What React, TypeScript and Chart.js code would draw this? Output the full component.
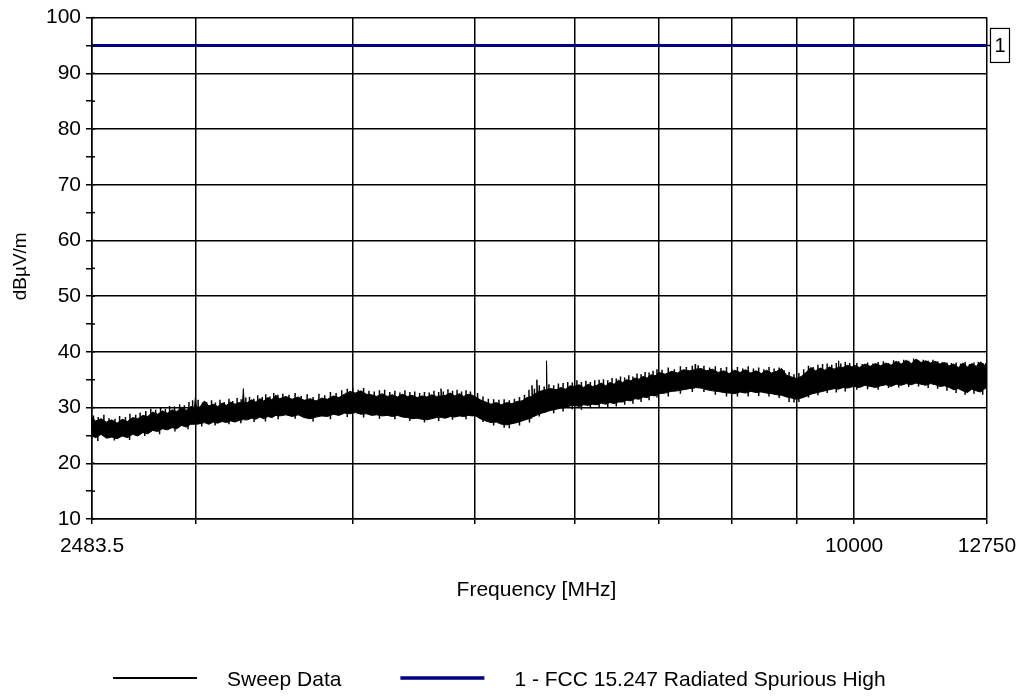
import { useEffect, useRef } from "react";
import { Chart, registerables } from "chart.js";

Chart.register(...registerables);

const FONT = "'Liberation Sans', Arial, Helvetica, sans-serif";

// Sweep points (MHz) with the upper and lower edge of the trace at each point (dBµV/m)
const FREQ_MHZ = [
  2483.5, 2500, 2525, 2550, 2575, 2600, 2625, 2650, 2675, 2700, 2725, 2750, 2775, 2800, 2825, 2850, 2875, 2900, 2925, 2950, 2975,
  2995, 3000, 3005, 3025, 3050, 3075, 3100, 3125, 3150, 3175, 3200, 3225, 3250, 3270, 3275, 3280, 3300, 3325, 3350, 3375, 3400, 3425, 3450, 3475,
  3500, 3540, 3580, 3620, 3660, 3700, 3740, 3780, 3820, 3860, 3900, 3940, 3980, 4020, 4060, 4100, 4140, 4180, 4220, 4260,
  4300, 4340, 4380, 4420, 4460, 4500, 4540, 4580, 4620, 4660, 4695, 4700, 4705, 4740, 4780, 4820, 4860, 4900, 4940, 4980,
  5000, 5050, 5100, 5150, 5200, 5250, 5300, 5350, 5400, 5450, 5500, 5545, 5550, 5555, 5595, 5600, 5605, 5650, 5695, 5700, 5705, 5750,
  5800, 5850, 5900, 5950, 6000, 6050, 6100, 6150, 6200, 6250, 6300, 6350, 6400, 6450, 6500, 6550, 6600, 6650, 6700, 6750, 6800, 6850, 6900, 6950,
  7000, 7080, 7160, 7240, 7320, 7400, 7475, 7480, 7485, 7560, 7640, 7720, 7800, 7880, 7960, 8040, 8120, 8200, 8280, 8360, 8440,
  8520, 8600, 8680, 8760, 8840, 8920, 9000, 9080, 9160, 9240, 9320, 9400, 9480, 9560, 9640, 9715, 9720, 9725, 9800, 9880, 9960,
  10000, 10100, 10200, 10300, 10400, 10500, 10600, 10700, 10800, 10900, 11000, 11100, 11200, 11300, 11400,
  11500, 11600, 11700, 11800, 11900, 12000, 12100, 12200, 12300, 12400, 12500, 12600, 12700, 12750,
];

const PEAK_DBUV = [
  28.2, 27.6, 28.0, 27.4, 27.8, 27.2, 27.9, 27.5, 28.2, 28.0, 28.6, 28.4, 29.2, 28.8, 29.4, 29.0, 29.6, 29.3, 30.0, 29.5, 30.2,
  30.0, 31.8, 30.1, 30.1, 31.2, 30.3, 30.6, 30.2, 30.8, 30.4, 31.0, 30.6, 30.9, 30.8, 33.4, 30.9, 30.9, 31.4, 31.0, 31.6, 31.2, 31.8, 31.4, 32.2,
  31.6, 32.0, 31.5, 31.9, 31.3, 31.6, 31.2, 31.7, 31.5, 32.1, 31.8, 32.4, 32.9, 32.6, 33.0, 32.4, 32.3, 32.0, 32.5, 32.0,
  32.3, 31.9, 32.4, 32.0, 32.2, 31.8, 32.1, 31.9, 32.3, 32.0, 32.1, 33.4, 32.1, 32.2, 32.6, 32.1, 32.5, 32.0, 32.4, 32.2,
  32.0, 31.4, 31.0, 30.6, 30.9, 30.5, 30.9, 30.7, 31.1, 31.2, 31.8, 32.0, 34.0, 32.2, 32.6, 35.0, 32.8, 33.0, 33.2, 38.4, 33.3, 33.4,
  33.2, 33.6, 33.3, 33.9, 33.8, 34.1, 33.6, 34.2, 33.8, 34.0, 34.4, 33.9, 34.5, 34.2, 34.9, 34.5, 35.0, 34.8, 35.3, 35.1, 35.6, 35.3, 35.9, 35.7,
  36.3, 36.0, 36.5, 36.2, 36.8, 36.6, 36.8, 37.8, 36.9, 37.0, 36.6, 36.9, 36.3, 36.6, 36.1, 36.7, 36.3, 36.8, 36.2, 36.6, 36.1,
  36.7, 36.2, 36.5, 37.0, 35.8, 35.5, 35.2, 35.6, 36.3, 37.2, 36.6, 37.1, 36.7, 37.3, 36.9, 37.2, 38.4, 37.3, 37.2, 37.6, 37.3,
  37.6, 37.2, 37.8, 37.4, 37.9, 37.5, 38.0, 37.6, 38.3, 37.8, 38.5, 37.9, 38.7, 38.1, 38.4,
  38.0, 38.3, 37.8, 38.1, 37.5, 37.8, 37.2, 38.0, 37.3, 37.9, 37.4, 38.2, 37.6, 37.9,
];

const FLOOR_DBUV = [
  24.9, 24.6, 25.2, 24.5, 24.7, 24.4, 24.9, 24.6, 25.2, 24.9, 25.5, 25.3, 25.9, 25.7, 26.2, 26.0, 26.4, 26.2, 26.8, 26.5, 27.0,
  27.0, 26.9, 27.0, 27.1, 27.3, 27.0, 27.4, 27.2, 27.5, 27.3, 27.6, 27.4, 27.7, 27.8, 27.9, 27.8, 27.8, 28.1, 27.9, 28.3, 28.0, 28.4, 28.2, 28.6,
  28.5, 28.7, 28.4, 28.7, 28.2, 28.0, 28.3, 28.5, 28.4, 28.8, 28.6, 29.0, 28.9, 29.1, 28.8, 28.9, 28.6, 28.7, 28.5, 28.6,
  28.4, 28.6, 28.3, 28.2, 28.0, 28.1, 27.9, 27.8, 28.0, 28.2, 28.2, 28.3, 28.2, 28.1, 28.4, 28.3, 28.5, 28.4, 28.6, 28.5,
  28.6, 28.0, 27.6, 27.3, 27.4, 27.0, 26.9, 27.1, 27.3, 27.6, 27.9, 28.1, 28.3, 28.3, 28.6, 28.7, 28.7, 29.0, 29.2, 29.3, 29.3, 29.5,
  29.7, 29.9, 30.0, 30.3, 30.4, 30.2, 30.5, 30.4, 30.6, 30.5, 30.8, 30.6, 30.9, 30.7, 31.0, 31.0, 31.3, 31.2, 31.6, 31.5, 31.9, 31.8, 32.2, 32.1,
  32.5, 32.6, 32.9, 33.0, 33.2, 33.4, 33.5, 33.6, 33.6, 33.5, 33.2, 33.0, 32.9, 32.7, 32.6, 32.5, 32.8, 32.6, 32.9, 32.7, 32.8,
  32.6, 32.5, 32.3, 32.2, 31.9, 31.7, 31.5, 31.7, 32.0, 32.4, 32.6, 32.8, 33.0, 33.2, 33.4, 33.3, 33.3, 33.3, 33.6, 33.5, 33.7,
  33.8, 33.6, 34.0, 33.8, 33.6, 33.9, 34.1, 33.8, 34.2, 34.0, 34.3, 34.1, 34.4, 34.2, 34.0,
  34.3, 34.1, 33.8, 33.9, 33.6, 33.2, 33.4, 33.0, 32.7, 33.3, 33.0, 32.8, 33.4, 33.6,
];

// Narrow excursions above the trace: frequency (MHz) and top level (dBµV/m)
const SPIKE_UP_MHZ = [
  2490, 2512, 2538, 2562, 2590, 2612, 2640, 2662, 2690, 2712, 2740, 2765, 2790, 2815, 2840, 2862, 2888, 2915, 2940, 2965, 2985,
  3015, 3040, 3062, 3090, 3112, 3138, 3162, 3190, 3212, 3238, 3262, 3290, 3312, 3338, 3362, 3390, 3412, 3438, 3462, 3488,
  3520, 3560, 3600, 3640, 3680, 3720, 3760, 3800, 3840, 3880, 3920, 3960, 4000, 4040, 4080, 4120, 4160, 4200, 4240, 4280,
  4320, 4360, 4400, 4440, 4480, 4520, 4560, 4600, 4640, 4680, 4720, 4760, 4800, 4840, 4880, 4920, 4960,
  5025, 5075, 5125, 5175, 5225, 5275, 5325, 5375, 5425, 5475, 5520, 5575, 5625, 5675, 5725, 5775, 5825, 5875, 5925, 5975,
  6025, 6075, 6125, 6175, 6225, 6275, 6325, 6375, 6425, 6475, 6525, 6575, 6625, 6675, 6725, 6775, 6825, 6875, 6925, 6975,
  7040, 7120, 7200, 7280, 7360, 7440, 7520, 7600, 7680, 7760, 7840, 7920, 8000, 8080, 8160, 8240, 8320, 8400, 8480, 8560,
  8640, 8720, 8800, 8880, 8960, 9040, 9120, 9200, 9280, 9360, 9440, 9520, 9600, 9680, 9760, 9840, 9920,
  10050, 10150, 10250, 10350, 10450, 10550, 10650, 10750, 10850, 10950, 11050, 11150, 11250, 11350, 11450,
  11550, 11650, 11750, 11850, 11950, 12050, 12150, 12250, 12350, 12450, 12550, 12650, 12725,
];
const SPIKE_UP_DBUV = [
  28.6, 28.3, 28.7, 28.1, 28.0, 28.5, 28.3, 28.9, 28.7, 29.1, 29.4, 29.8, 29.6, 30.0, 29.8, 30.3, 30.2, 30.6, 30.4, 31.0, 31.3,
  31.4, 30.9, 31.0, 31.3, 30.9, 31.4, 31.0, 31.6, 31.2, 31.7, 31.5, 31.8, 31.9, 31.6, 32.2, 31.9, 32.4, 32.0, 32.6, 32.3,
  32.5, 32.3, 32.6, 32.1, 32.4, 31.9, 32.5, 32.2, 32.8, 32.6, 33.1, 33.4, 33.6, 33.2, 33.5, 33.0, 32.9, 33.1, 33.2, 32.8,
  33.0, 32.7, 33.1, 32.8, 32.9, 32.6, 32.8, 32.7, 33.0, 32.8, 32.9, 33.3, 33.0, 33.2, 32.9, 33.1, 32.9,
  32.6, 32.0, 31.6, 31.5, 31.4, 31.5, 31.3, 31.6, 31.9, 32.3, 33.2, 33.4, 34.0, 33.8, 34.2, 34.0, 34.3, 34.4, 34.6, 34.5,
  34.9, 34.6, 34.8, 34.6, 34.9, 35.0, 35.1, 34.9, 35.3, 35.2, 35.6, 35.4, 35.8, 35.6, 36.1, 36.0, 36.4, 36.3, 36.6, 36.9,
  36.8, 37.2, 36.9, 37.4, 37.3, 37.5, 37.6, 37.5, 37.2, 37.4, 37.1, 37.3, 36.9, 37.3, 37.0, 37.4, 37.0, 37.2, 36.9, 37.3,
  37.0, 37.2, 36.7, 36.4, 36.0, 36.2, 36.9, 37.5, 37.3, 37.7, 37.8, 37.9, 37.7, 38.0, 37.9, 38.2, 38.0,
  38.0, 37.8, 38.1, 37.9, 38.2, 38.3, 38.0, 38.5, 38.3, 38.6, 38.4, 38.8, 38.5, 38.6, 38.4,
  38.6, 38.3, 38.2, 38.1, 38.0, 38.1, 37.9, 38.2, 37.8, 38.1, 38.2, 38.0, 38.0,
];

// Narrow excursions below the trace: frequency (MHz) and bottom level (dBµV/m)
const SPIKE_DOWN_MHZ = [
  2510, 2587, 2660, 2735, 2810, 2890, 2960, 3035, 3110, 3190, 3260, 3340, 3410, 3490, 3600, 3720, 3840, 3960, 4080, 4200,
  4320, 4440, 4560, 4680, 4800, 4920, 5075, 5175, 5275, 5325, 5425, 5525, 5625, 5775, 5875, 5975, 6075, 6175, 6275, 6375,
  6475, 6575, 6675, 6775, 6875, 6975, 7120, 7280, 7440, 7600, 7760, 7920, 8080, 8240, 8400, 8560, 8720, 8880, 8960, 9040,
  9200, 9360, 9520, 9680, 9840, 10050, 10250, 10450, 10650, 10850, 11050, 11250, 11450, 11650, 11850, 12050, 12250, 12450, 12650,
];
const SPIKE_DOWN_DBUV = [
  24.0, 24.1, 24.2, 24.9, 25.2, 25.7, 26.1, 26.6, 26.8, 27.0, 27.2, 27.4, 27.5, 27.9, 28.0, 27.5, 27.9, 28.3, 28.2, 28.0,
  27.9, 27.6, 27.3, 27.6, 27.8, 27.9, 27.4, 26.8, 26.4, 26.3, 26.8, 27.3, 28.4, 29.0, 29.3, 29.7, 29.6, 29.9, 30.0, 30.1,
  30.2, 30.5, 30.7, 31.0, 31.3, 31.8, 32.0, 32.5, 32.8, 32.8, 32.3, 32.0, 32.0, 32.0, 32.1, 32.0, 31.7, 31.0, 30.9, 31.0,
  31.8, 32.2, 32.6, 32.7, 32.9, 33.2, 33.3, 33.2, 33.5, 33.6, 33.7, 33.8, 33.5, 33.4, 33.0, 32.6, 32.3, 32.5, 32.3,
];

const SWEEP_LABEL = "Sweep Data";
const LIMIT_LABEL = "1 - FCC 15.247 Radiated Spurious High";
const LIMIT_TAG = "1";
const LIMIT_DBUV = 95;

const X_MIN = 2483.5;
const X_MAX = 12750;
const X_GRID_MHZ = [2483.5, 3000, 4000, 5000, 6000, 7000, 8000, 9000, 10000, 12750];
const X_LABELS_MHZ = [2483.5, 10000, 12750];
const Y_MIN = 10;
const Y_MAX = 100;
const Y_MINOR_STEP = 5;
const Y_MAJOR_STEP = 10;

const X_TITLE = "Frequency [MHz]";
const Y_TITLE = "dBµV/m";

// index of the sweep point closest to f (log distance)
function nearestIndex(f: number) {
  let best = 0;
  let bestD = Infinity;
  for (let i = 0; i < FREQ_MHZ.length; i++) {
    const d = Math.abs(Math.log(FREQ_MHZ[i] / f));
    if (d < bestD) {
      bestD = d;
      best = i;
    }
  }
  return best;
}

// vertical strokes from the middle of the trace out to each excursion level
function spikeSegments(freqs: number[], levels: number[]) {
  const pts: { x: number; y: number | null }[] = [];
  const n = Math.min(freqs.length, levels.length);
  for (let i = 0; i < n; i++) {
    const k = nearestIndex(freqs[i]);
    const mid = (PEAK_DBUV[k] + FLOOR_DBUV[k]) / 2;
    pts.push({ x: freqs[i], y: mid }, { x: freqs[i], y: levels[i] }, { x: freqs[i], y: null });
  }
  return pts;
}

// Axis titles, the limit-line tag and the legend row under the plot
const decorations = {
  id: "decorations",
  afterDraw(chart: any) {
    const { ctx, chartArea: a, scales } = chart;
    const ys = scales.y;
    ctx.save();
    ctx.strokeStyle = "#000";
    ctx.fillStyle = "#000";

    // short tick stubs reaching into the plot from the left axis
    ctx.lineWidth = 1.5;
    for (let v = Y_MIN; v <= Y_MAX; v += Y_MINOR_STEP) {
      const py = ys.getPixelForValue(v);
      ctx.beginPath();
      ctx.moveTo(a.left, py);
      ctx.lineTo(a.left + 3, py);
      ctx.stroke();
    }

    // numbered tag at the right end of the limit line
    const ly = ys.getPixelForValue(LIMIT_DBUV);
    ctx.beginPath();
    ctx.moveTo(a.right, ly);
    ctx.lineTo(a.right + 3.5, ly);
    ctx.stroke();
    ctx.lineWidth = 1.2;
    ctx.strokeRect(a.right + 3.5, ly - 17, 19, 34);
    ctx.font = `20px ${FONT}`;
    ctx.textAlign = "center";
    ctx.textBaseline = "middle";
    ctx.fillText(LIMIT_TAG, a.right + 13, ly + 1);

    // axis titles
    ctx.font = `21px ${FONT}`;
    ctx.fillText(X_TITLE, (a.left + a.right) / 2 - 3, a.bottom + 71);
    ctx.save();
    ctx.translate(a.left - 71, (a.top + a.bottom) / 2 - 2);
    ctx.rotate(-Math.PI / 2);
    ctx.font = `19px ${FONT}`;
    ctx.fillText(Y_TITLE, 0, 0);
    ctx.restore();

    // legend
    ctx.font = `21px ${FONT}`;
    ctx.textAlign = "left";
    const legendY = a.bottom + 159;
    let x = 113;
    chart.data.datasets.forEach((ds: any) => {
      if (!ds.label) return;
      ctx.strokeStyle = ds.borderColor;
      ctx.lineWidth = ds.legendLineWidth;
      ctx.beginPath();
      ctx.moveTo(x, legendY);
      ctx.lineTo(x + 84, legendY);
      ctx.stroke();
      ctx.fillText(ds.label, x + 114, legendY + 2);
      x += 114 + ctx.measureText(ds.label).width + 59;
    });

    ctx.restore();
  },
};

export default function App() {
  const canvasRef = useRef<HTMLCanvasElement | null>(null);

  useEffect(() => {
    const canvas = canvasRef.current;
    if (!canvas) return;
    const n = Math.min(FREQ_MHZ.length, PEAK_DBUV.length, FLOOR_DBUV.length);
    const peak = [];
    const floor = [];
    for (let i = 0; i < n; i++) {
      peak.push({ x: FREQ_MHZ[i], y: PEAK_DBUV[i] });
      floor.push({ x: FREQ_MHZ[i], y: FLOOR_DBUV[i] });
    }

    const trace = { borderColor: "#000", pointRadius: 0, tension: 0 };

    const chart = new Chart(canvas, {
      type: "line",
      data: {
        datasets: [
          {
            ...trace,
            label: SWEEP_LABEL,
            data: peak,
            backgroundColor: "#000",
            borderWidth: 1,
            fill: "+1",
            legendLineWidth: 2,
          } as any,
          { ...trace, label: "", data: floor, borderWidth: 1, fill: false },
          {
            ...trace,
            label: "",
            data: spikeSegments(SPIKE_UP_MHZ, SPIKE_UP_DBUV),
            borderWidth: 1.5,
            fill: false,
            spanGaps: false,
          },
          {
            ...trace,
            label: "",
            data: spikeSegments(SPIKE_DOWN_MHZ, SPIKE_DOWN_DBUV),
            borderWidth: 1.5,
            fill: false,
            spanGaps: false,
          },
          {
            label: LIMIT_LABEL,
            data: [
              { x: X_MIN, y: LIMIT_DBUV },
              { x: X_MAX, y: LIMIT_DBUV },
            ],
            borderColor: "#000080",
            borderWidth: 3,
            pointRadius: 0,
            fill: false,
            legendLineWidth: 3.5,
          } as any,
        ],
      },
      options: {
        responsive: false,
        animation: false,
        events: [],
        layout: { padding: { top: 14.5, right: 33, bottom: 0, left: 0 } },
        plugins: {
          legend: { display: false },
          tooltip: { enabled: false },
        },
        scales: {
          x: {
            type: "logarithmic",
            min: X_MIN,
            max: X_MAX,
            afterBuildTicks: (s: any) => {
              s.ticks = X_GRID_MHZ.map((v) => ({ value: v }));
            },
            afterFit: (s: any) => {
              s.height = 179;
              // end labels may overhang the plot; the layout padding leaves room for them
              s.paddingLeft = 0;
              s.paddingRight = 0;
            },
            ticks: {
              autoSkip: false,
              maxRotation: 0,
              minRotation: 0,
              padding: 10,
              color: "#000",
              font: { family: FONT, size: 21 },
              callback: (v: any) => (X_LABELS_MHZ.includes(Number(v)) ? String(v) : ""),
            },
            grid: { color: "#000", lineWidth: 1.5, tickLength: 5 },
            border: { color: "#000", width: 1.5 },
          },
          y: {
            min: Y_MIN,
            max: Y_MAX,
            afterFit: (s: any) => {
              s.width = 92;
            },
            ticks: {
              stepSize: Y_MINOR_STEP,
              autoSkip: false,
              padding: 5,
              color: "#000",
              font: { family: FONT, size: 21 },
              callback: (v: any) => (Number(v) % Y_MAJOR_STEP === 0 ? String(v) : ""),
            },
            grid: {
              color: (c: any) =>
                c.tick && c.tick.value % Y_MAJOR_STEP === 0 ? "#000" : "rgba(0,0,0,0)",
              tickColor: "#000",
              lineWidth: 1.5,
              tickLength: 6,
            },
            border: { color: "#000", width: 1.5 },
          },
        },
      } as any,
      plugins: [decorations],
    });

    return () => chart.destroy();
  }, []);

  return (
    <div style={{ position: "fixed", left: 0, top: 0, width: 1020, height: 698, background: "#fff" }}>
      <canvas ref={canvasRef} width={1020} height={698} style={{ display: "block" }} />
    </div>
  );
}
